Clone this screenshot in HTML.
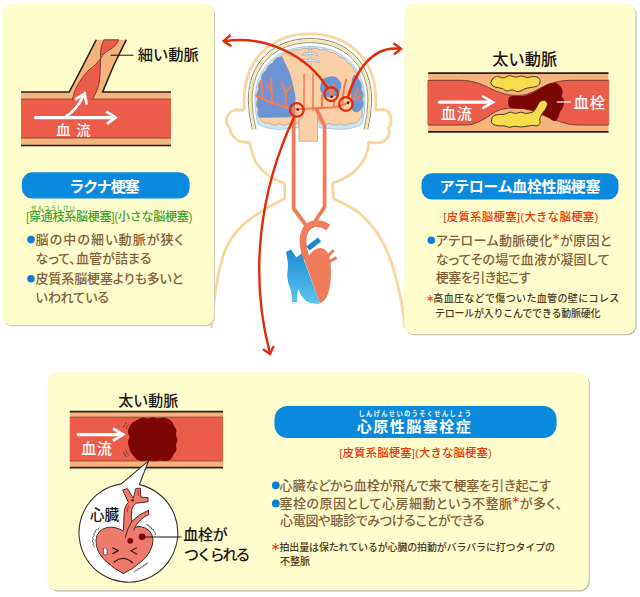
<!DOCTYPE html>
<html lang="ja">
<head>
<meta charset="utf-8">
<title>脳梗塞の種類</title>
<style>
html,body{margin:0;padding:0;background:#fff;}
body{width:640px;height:597px;overflow:hidden;position:relative;font-family:"Liberation Sans","Noto Sans CJK JP",sans-serif;}
svg{position:absolute;left:0;top:0;display:block;}
text{font-family:"Liberation Sans","Noto Sans CJK JP",sans-serif;}
.b{font-weight:700;}
.body{fill:#84603a;font-size:13px;font-weight:500;font-feature-settings:"palt";}
.fn{fill:#4e3822;font-size:10px;font-weight:500;}
.w{fill:#fff;font-weight:700;}
.k{fill:#1a1410;font-weight:500;}
.red{fill:#e8380d;font-weight:500;}
.grn{fill:#3da436;font-weight:500;}
.ast{fill:#e8380d;font-weight:700;}
</style>
</head>
<body>
<svg width="640" height="597" viewBox="0 0 640 597">
<defs>
<linearGradient id="hb" x1="0" y1="0" x2="0" y2="1"><stop offset="0" stop-color="#1c8ad2"/><stop offset="1" stop-color="#5cc6f0"/></linearGradient>
</defs>

<!-- ========== BODY / BRAIN (behind panels) ========== -->
<g id="bodyfig">
<!-- head/body outline -->
<path d="M244.2 110 V100.0 C244.2 60.3 270.5 33.8 310.0 33.8 C349.5 33.8 375.8 60.3 375.8 100.0 V110
 L384 109.5 Q389.8 111 391 118 Q392 124.5 388.3 128.5 Q390.8 134 387 138.5 Q383 143 376.3 142.9 L368.5 142.5
 Q369 151 362.5 162 Q356 171 349 175.5 Q341 180.5 332.5 183.4 L333.4 198.4 Q347 205 357 211 Q370 222 378 234 Q387 248 392.4 265.7 Q397.5 282 400.8 299 Q402.5 308 403.7 316 L405 328" fill="none" stroke="#fbd59e" stroke-width="2.8" stroke-linejoin="round"/>
<path d="M244.2 110 L235 110 Q228.5 112 226.7 118 Q225.5 124 230 128.5 Q230 134 234.5 137.5 Q238 142 244 142 L250 143
 Q251 151 255.6 162 Q261 170 268.75 176 Q276 180.5 284.7 183.4 L284.7 198.4 Q270 206 260 212.5 Q246 221 237 231 Q228 242 223.4 255 Q218 272 215.3 291 Q213.5 310 211.3 328" fill="none" stroke="#fbd59e" stroke-width="2.8" stroke-linejoin="round"/>
<!-- skull layers -->
<path d="M252.3 129.5 Q248.6 115 248.3 100.0 C248.3 63.1 273.0 38.5 310.0 38.5 C347.0 38.5 371.7 63.1 371.7 100.0 Q371.4 115 367.7 129.5" fill="none" stroke="#8f8378" stroke-width="1"/>
<path d="M254.2 129.5 Q250.5 115 250.2 100.0 C250.2 64.4 274.1 40.6 310.0 40.6 C345.9 40.6 369.8 64.4 369.8 100.0 Q369.5 115 365.8 129.5" fill="none" stroke="#f3eaa6" stroke-width="2.3"/>
<path d="M256.0 129.5 Q252.3 115 252.0 100.0 C252.0 65.6 275.2 42.6 310.0 42.6 C344.8 42.6 368.0 65.6 368.0 100.0 Q367.7 115 364.0 129.5" fill="none" stroke="#8f8378" stroke-width="0.9"/>
<!-- M253.7 100.0 C253.7 67.0 276.2 45.0 310.0 45.0 C343.8 45.0 366.3 67.0 366.3 100.0 Q366.3 115 362 124.5 Q350 130 335 128.5 L319 127 L319 120 L299 120 L299 127 L285 128.5 Q270 130 258 124.5 Q253.7 115 253.7 100.0 Z light blue -->
<path d="M255.1 100.0 C255.1 67.9 277.1 46.5 310.0 46.5 C342.9 46.5 364.9 67.9 364.9 100.0 Q364.9 115 361.5 124.5 Q350 130.5 335 129 L319 127.5 L319 120 L299 120 L299 127.5 L285 129 Q270 130.5 258.5 124.5 Q255.1 115 255.1 100.0 Z" fill="#cfe6f2" stroke="#a9cde2" stroke-width="1"/>
<!-- brain -->
<clipPath id="bc"><path d="M260.5 119.5 Q256.3 115.2 258.4 109.6 Q254.9 104.7 257.8 99.5 Q255.1 94.1 258.7 89.4 Q257.0 83.6 261.5 79.6 Q261.0 73.6 266.1 70.6 Q267.0 64.7 272.7 62.9 Q274.8 57.3 280.8 56.8 Q284.1 51.8 290.0 52.6 Q294.2 48.3 299.9 50.3 Q304.7 46.7 310.0 49.5 Q315.3 46.7 320.1 50.3 Q325.8 48.3 330.0 52.6 Q335.9 51.8 339.2 56.8 Q345.2 57.3 347.3 62.9 Q353.0 64.7 353.9 70.6 Q359.0 73.6 358.5 79.6 Q363.0 83.6 361.3 89.4 Q364.9 94.1 362.2 99.5 Q365.1 104.7 361.6 109.6 Q363.7 115.2 359.5 119.5 Q356.0 124.6 349.9 123.3 Q344.8 126.9 339.6 123.6 Q334.3 126.8 329.3 123.2 Q323.8 126.0 319.0 122.0 L318 118 L300 118 L299 122 Q294.6 126.0 289.2 123.3 Q284.5 126.8 279.4 123.6 Q274.4 126.8 269.6 123.2 Q263.8 124.5 260.5 119.5 Z"/></clipPath>
<path d="M260.5 119.5 Q256.3 115.2 258.4 109.6 Q254.9 104.7 257.8 99.5 Q255.1 94.1 258.7 89.4 Q257.0 83.6 261.5 79.6 Q261.0 73.6 266.1 70.6 Q267.0 64.7 272.7 62.9 Q274.8 57.3 280.8 56.8 Q284.1 51.8 290.0 52.6 Q294.2 48.3 299.9 50.3 Q304.7 46.7 310.0 49.5 Q315.3 46.7 320.1 50.3 Q325.8 48.3 330.0 52.6 Q335.9 51.8 339.2 56.8 Q345.2 57.3 347.3 62.9 Q353.0 64.7 353.9 70.6 Q359.0 73.6 358.5 79.6 Q363.0 83.6 361.3 89.4 Q364.9 94.1 362.2 99.5 Q365.1 104.7 361.6 109.6 Q363.7 115.2 359.5 119.5 Q356.0 124.6 349.9 123.3 Q344.8 126.9 339.6 123.6 Q334.3 126.8 329.3 123.2 Q323.8 126.0 319.0 122.0 L318 118 L300 118 L299 122 Q294.6 126.0 289.2 123.3 Q284.5 126.8 279.4 123.6 Q274.4 126.8 269.6 123.2 Q263.8 124.5 260.5 119.5 Z" fill="#fbd0a6"/>
<!-- central fissure -->
<path d="M310 47 V65.5 M303.5 54.5 Q310 52 316.5 54.5 M301.5 61.5 Q310 58.5 318.5 61.5" fill="none" stroke="#9aa6ae" stroke-width="2.6" stroke-linecap="round"/>
<path d="M310 47 V65 M303.5 54.5 Q310 52 316.5 54.5 M301.5 61.5 Q310 58.5 318.5 61.5" fill="none" stroke="#d5e4ec" stroke-width="1.4" stroke-linecap="round"/>
<!-- infarct regions -->
<g clip-path="url(#bc)">
<path d="M280.9 54.1 L282 45 H250 V112 Q256 117 262 117.8 L290 117.3 Q294.5 116 294.6 110 L295.6 97.7 Q294.5 89 289.6 72.2 Z" fill="#6c93d3"/>
<path d="M354 75 Q359 76 362 84 Q365 92 364.5 100 Q363.5 108 359 111.5 Q355.5 113.5 352.5 110.5 Q350.5 107 351.5 101 Q350.5 95 351.5 88 Q350.5 80 354 75 Z" fill="#6c93d3"/>
</g>
<path d="M330 76.5 Q336 75.5 339 80 Q343 84 340.5 89.5 Q340 95.5 334 96.5 Q328 99 323.5 95 Q319 91.5 320.5 86 Q320.5 79.5 325.5 77.8 Z" fill="#6c93d3"/>
<path d="M260.5 119.5 Q256.3 115.2 258.4 109.6 Q254.9 104.7 257.8 99.5 Q255.1 94.1 258.7 89.4 Q257.0 83.6 261.5 79.6 Q261.0 73.6 266.1 70.6 Q267.0 64.7 272.7 62.9 Q274.8 57.3 280.8 56.8 Q284.1 51.8 290.0 52.6 Q294.2 48.3 299.9 50.3 Q304.7 46.7 310.0 49.5 Q315.3 46.7 320.1 50.3 Q325.8 48.3 330.0 52.6 Q335.9 51.8 339.2 56.8 Q345.2 57.3 347.3 62.9 Q353.0 64.7 353.9 70.6 Q359.0 73.6 358.5 79.6 Q363.0 83.6 361.3 89.4 Q364.9 94.1 362.2 99.5 Q365.1 104.7 361.6 109.6 Q363.7 115.2 359.5 119.5 Q356.0 124.6 349.9 123.3 Q344.8 126.9 339.6 123.6 Q334.3 126.8 329.3 123.2 Q323.8 126.0 319.0 122.0 L318 118 L300 118 L299 122 Q294.6 126.0 289.2 123.3 Q284.5 126.8 279.4 123.6 Q274.4 126.8 269.6 123.2 Q263.8 124.5 260.5 119.5 Z" fill="none" stroke="#b39a84" stroke-width="0.7"/>
<!-- brainstem -->
<path d="M299 116 V141.2 H317.5 V116" fill="#fbd0a6" stroke="#b9977a" stroke-width="0.7"/>
<!-- arteries -->
<g fill="none" stroke="#f4906e" stroke-width="2" stroke-linecap="round">
<path d="M304.1 110 V74.5 M313 110 V74.5"/>
</g>
<g fill="none" stroke="#f47c54" stroke-width="2.1" stroke-linecap="round">
<path d="M256.1 95.7 Q266 100.5 276.2 104.4 Q287 107.8 297 109.3"/>
<path d="M262.1 99 Q263.2 89 260.8 80.9 M272.2 103 Q271.3 90 271.1 78.7 M271.5 91 L267.1 85 M285.6 107.5 L285.8 92.3 L281.6 83 M285.8 92.3 L291.6 85.6"/>
<path d="M297 109.3 L334 107.3 Q341 106 346 103.7 Q355 99.5 361.3 95.4"/>
<path d="M331.6 96.5 L329 86.5 M331.6 96.5 L334 84.5 M322 108 V95 M334 107 V100 M342.4 104.5 Q343 90 346.2 79.6 M347.7 98 Q348.5 91 351.5 86.4 M353.5 99.5 L357.5 89"/>
</g>
<g fill="none" stroke="#f17c5b" stroke-width="3.8" stroke-linejoin="round" stroke-linecap="round">
<path d="M293.6 112 V208.5 L306.5 226"/>
<path d="M316.5 109 L324.6 126 V207 L315.6 220.5"/>
</g>
<!-- heart -->
<path d="M328.3 227.5 Q321 222.5 313 224 Q303.5 227.5 303 240 Q303 249 306 258" fill="none" stroke="#f17c5b" stroke-width="6.8"/>
<path d="M308 248.5 L319.5 239.5" stroke="#1c86d0" stroke-width="5.2" fill="none"/>
<path d="M302 253.5 L320 303.5 Q324 301.5 326.5 297.5 Q330.5 289 330.8 278 Q331.5 266 329.5 257 Q327 249 321 248 Q315 248 311.5 252.5 L306.5 258 Z" fill="#f17c5b"/>
<path d="M326 258 L333.6 250.2 M328 262.3 L336.6 257.6" stroke="#f17c5b" stroke-width="3" fill="none"/>
<path d="M286 252 L291 249.5 L296.5 257.5 L301.5 253.5 L320 303.5 Q312 304.8 306 301 Q300.5 296 298.5 289 Q296.5 294 297.5 302 L292 302 Q292 295 290.5 289 Q287 281 287.2 274 Q288.5 266 287.5 260 Z" fill="url(#hb)"/>
</g>

<!-- ========== PANELS ========== -->
<g id="panels">
<rect x="3.1" y="4.5" width="211.9" height="321.8" rx="9.5" fill="#c4c2b2"/>
<rect x="2.3" y="3.5" width="211.9" height="321.8" rx="9.5" fill="#fffdcb"/>
<rect x="405.2" y="4.6" width="231.4" height="330.7" rx="9.5" fill="#bab8a8"/>
<rect x="404.2" y="3.5" width="231.4" height="330.7" rx="9.5" fill="#fffdcb"/>
<rect x="48.2" y="373.6" width="541.5" height="217.8" rx="9.5" fill="#bab8a8"/>
<rect x="47.3" y="372.5" width="541.5" height="217.8" rx="9.5" fill="#fffdcb"/>
</g>

<!-- ========== ILLUSTRATION 1 ========== -->
<g id="ill1">
<path d="M21 92 H69.2 Q83.5 65 96.25 39.75 H126.25 Q113 65 102.6 92 H171 V145.5 H21 Z" fill="#f4b47c"/>
<rect x="21" y="99.1" width="150" height="38.9" fill="#eb5d4a"/>
<path d="M21 99.1 H72.5 M92.7 99.1 H171 M21 138 H171" fill="none" stroke="#7a3a24" stroke-width="0.8"/>
<path d="M72.5 99.3 C72.8 98.2 73.4 95.2 74.1 93.0 C74.8 90.8 75.5 89.0 76.9 86.4 C78.3 83.9 80.3 80.4 82.3 77.7 C84.3 75.0 87.0 71.9 88.9 70.0 C90.8 68.1 91.8 68.1 93.8 66.2 C95.7 64.4 99.5 60.0 100.6 58.7 C100.6 59.9 100.5 63.5 100.4 66.0 C100.3 68.5 100.2 71.3 100.0 74.0 C99.8 76.7 99.7 79.5 99.3 82.0 C98.9 84.5 98.3 86.7 97.5 89.0 C96.7 91.3 95.2 94.0 94.4 95.7 C93.6 97.4 93.0 98.7 92.7 99.3 Z" fill="#eb5d4a" stroke="#6a2a18" stroke-width="0.8"/>
<rect x="73" y="98.5" width="19.3" height="2.5" fill="#eb5d4a"/>
<path d="M100.6 58.7 C100.6 57.9 100.4 55.8 100.5 54.0 C100.6 52.2 100.7 49.7 101.0 48.0 C101.3 46.3 101.8 45.4 102.3 44.0 C102.8 42.6 103.5 40.5 103.8 39.8 L118.75 39.75 C118.3 40.5 117.0 43.2 116.0 44.5 C115.0 45.8 114.1 46.5 112.5 47.8 C110.9 49.0 107.9 50.7 106.2 52.0 C104.6 53.3 103.4 54.4 102.5 55.5 C101.6 56.6 100.9 58.2 100.6 58.7 Z" fill="#eb5d4a" stroke="#6a2a18" stroke-width="0.8"/>
<path d="M21 92 H69.2 Q83.5 65 96.25 39.75 M126.25 39.75 Q113 65 102.6 92 H171 M21 145.5 H171" fill="none" stroke="#2a1c14" stroke-width="1.6"/>
<path d="M35.5 117.6 H114" fill="none" stroke="#fff" stroke-width="3.2" stroke-linecap="round"/>
<path d="M106.2 111.4 L115.5 117.6 L107 123.8" fill="none" stroke="#fff" stroke-width="2.8"/>
<path d="M66 116.5 Q76.5 110 83.7 95.5" fill="none" stroke="#fff" stroke-width="2.8"/>
<path d="M75.2 99.5 L84.6 93.6 L86.7 104.5" fill="none" stroke="#fff" stroke-width="2.7"/>
<text class="w" x="56.3" y="134.6" font-size="14.2" style="font-weight:500">血<tspan dx="5.8">流</tspan></text>
<path d="M110.5 55.2 H133.5" stroke="#111" stroke-width="1" fill="none"/>
<text class="k" x="137.8" y="60.2" font-size="15.3" textLength="61">細い動脈</text>
</g>
<!-- ========== ILLUSTRATION 2 ========== -->
<g id="ill2">
<rect x="428.2" y="73.2" width="180.3" height="58.7" fill="#f4b47c"/>
<path d="M428.2 80.3 H460 C472 80.4 478 83 485 85.9 C490 88 494 90.5 498.3 91.9 C503 93.5 507 94.8 511.6 95.2 Q517 95.7 522.2 95.2 C526 94.8 529 93.5 532.8 91.9 C537 90 540 88.3 543.4 86.6 C547 84.8 550 83.7 554 82.6 C558 81.5 561 81 564.7 80.6 Q570 80.2 578 80.3 H608.5 V125 H578 Q574 124.9 570 124.4 C568 124 566 123.5 564.7 123.1 C561 122 558 121.3 554 119.8 C550 118.3 547 116.7 543.4 115.2 C539 113.3 536 111.8 531.5 110.5 Q528 109.5 524.8 108.8 C521 108 518 107.8 514.2 107.9 C510 108 506 108.3 502.3 109.2 C499 110 496 111.3 493 113.2 C490 115 488 116.8 485 118.5 C480 121.3 476 123.5 470 124.8 Q465 125 460 125 H428.2 Z" fill="#eb5d4a" stroke="#5a3020" stroke-width="0.8"/>
<rect x="427.6" y="80.8" width="1.2" height="43.8" fill="#eb5d4a"/><rect x="607.9" y="80.8" width="1.2" height="43.8" fill="#eb5d4a"/>
<path d="M428.2 73.2 H608.5 M428.2 131.9 H608.5" stroke="#2a1c14" stroke-width="1.7" fill="none"/>
<path d="M508.2 102.0 C508.3 100.8 508.3 98.5 509.0 97.5 C509.7 96.5 511.0 96.2 512.5 96.0 C514.0 95.8 516.1 96.0 518.0 96.0 C519.9 96.0 522.0 96.1 524.0 95.8 C526.0 95.5 528.0 94.8 530.0 94.0 C532.0 93.2 534.2 92.0 536.0 91.0 C537.8 90.0 539.4 88.9 541.0 88.0 C542.6 87.1 544.0 86.2 545.5 85.5 C547.0 84.8 548.4 84.0 550.0 83.6 C551.6 83.2 553.8 82.8 555.4 83.1 C557.0 83.4 558.4 84.5 559.5 85.5 C560.6 86.5 561.5 87.8 562.0 89.0 C562.5 90.2 562.8 91.3 562.7 92.5 C562.6 93.7 561.5 95.3 561.6 96.4 C561.8 97.5 563.2 98.0 563.6 99.0 C564.0 100.0 564.3 101.3 564.2 102.5 C564.1 103.7 563.5 104.9 563.2 106.0 C562.9 107.1 562.7 108.0 562.2 109.0 C561.7 110.0 560.5 110.9 560.0 112.0 C559.5 113.1 559.4 114.4 559.0 115.5 C558.6 116.6 558.0 117.8 557.4 118.7 C556.8 119.6 556.1 120.7 555.2 121.0 C554.3 121.3 553.1 120.8 552.0 120.3 C550.9 119.8 550.2 118.6 548.8 117.8 C547.4 117.0 545.5 116.2 543.4 115.2 C541.3 114.2 538.6 112.5 536.0 111.5 C533.4 110.5 530.7 110.0 528.0 109.5 C525.3 109.0 522.3 108.9 520.0 108.7 C517.7 108.5 515.7 108.8 514.0 108.6 C512.3 108.4 510.9 108.1 510.0 107.5 C509.1 106.9 508.8 105.9 508.5 105.0 C508.2 104.1 508.1 103.2 508.2 102.0 Z" fill="#7a0703"/>
<path d="M491.0 82.0 C491.4 81.0 492.4 78.9 493.5 78.0 C494.6 77.1 496.0 76.4 497.6 76.4 C499.2 76.4 500.9 78.0 502.9 77.9 C504.9 77.8 507.5 75.7 509.6 75.6 C511.7 75.5 513.5 77.0 515.5 77.1 C517.5 77.2 519.5 75.9 521.5 76.0 C523.5 76.1 525.4 77.4 527.5 77.5 C529.6 77.6 532.3 76.3 534.1 76.4 C535.9 76.5 537.5 77.2 538.5 78.0 C539.5 78.8 540.1 80.4 540.1 81.5 C540.1 82.6 539.5 83.7 538.8 84.5 C538.1 85.3 537.5 86.0 536.0 86.5 C534.5 87.0 531.4 87.3 529.5 87.7 C527.6 88.1 526.7 88.1 524.8 88.8 C522.9 89.5 520.3 91.5 518.2 91.7 C516.1 91.9 514.1 90.0 512.2 89.9 C510.3 89.8 508.5 91.3 506.9 91.1 C505.2 90.9 503.9 89.2 502.3 88.6 C500.7 88.0 498.6 87.9 497.0 87.5 C495.4 87.1 493.9 86.6 493.0 86.0 C492.1 85.4 491.6 84.7 491.3 84.0 C491.0 83.3 490.6 83.0 491.0 82.0 Z" fill="#f9dc4c" stroke="#4a3418" stroke-width="1"/>
<path d="M491.4 121.0 C491.4 120.1 491.7 118.5 492.3 117.5 C492.9 116.5 493.8 115.8 495.0 115.3 C496.2 114.8 498.0 114.7 499.6 114.5 C501.2 114.3 502.7 114.7 504.5 114.3 C506.3 113.9 508.4 112.3 510.2 112.2 C512.0 112.1 513.7 113.4 515.5 113.4 C517.3 113.4 519.2 112.2 520.9 112.2 C522.6 112.2 524.0 113.3 525.5 113.4 C527.0 113.5 528.9 113.1 530.2 112.8 C531.5 112.5 532.5 112.3 533.5 111.5 C534.5 110.7 535.2 109.2 536.0 108.0 C536.8 106.8 537.4 105.6 538.1 104.5 C538.8 103.4 539.2 102.3 540.1 101.6 C541.0 100.9 542.3 100.3 543.4 100.3 C544.5 100.3 545.8 101.0 546.5 101.8 C547.2 102.5 547.6 103.6 547.4 104.8 C547.2 106.0 546.2 107.8 545.4 109.2 C544.6 110.6 543.3 111.8 542.5 113.0 C541.7 114.2 541.1 115.4 540.6 116.5 C540.1 117.6 539.8 118.7 539.7 119.8 C539.6 120.9 540.5 122.0 540.1 123.0 C539.7 124.0 538.9 125.2 537.5 125.6 C536.1 126.0 533.2 125.4 531.5 125.5 C529.8 125.6 528.8 126.0 527.0 126.2 C525.2 126.5 522.9 127.0 520.9 127.0 C518.9 127.0 516.9 126.2 515.0 126.2 C513.1 126.2 511.4 127.4 509.6 127.3 C507.8 127.2 505.9 126.0 504.0 125.8 C502.1 125.5 500.0 126.0 498.3 125.8 C496.6 125.6 495.1 125.2 494.0 124.7 C492.9 124.2 492.4 123.6 492.0 123.0 C491.6 122.4 491.3 121.9 491.4 121.0 Z" fill="#f9dc4c" stroke="#4a3418" stroke-width="1"/>
<path d="M439.5 102.2 H491.5" stroke="#fff" stroke-width="3.2" stroke-linecap="round" fill="none"/>
<path d="M482.3 96 L493 102.2 L482.3 108.4" fill="none" stroke="#fff" stroke-width="2.6"/>
<text class="w" x="441" y="119" font-size="15" textLength="30.8" style="font-weight:500">血流</text>
<path d="M556.8 102 H570.8" stroke="#fff" stroke-width="1.2" fill="none"/>
<text class="w" x="573.5" y="108" font-size="15.3" textLength="31.5" style="font-weight:500">血栓</text>
<text class="k" x="492.2" y="65" font-size="16.2" textLength="65">太い動脈</text>
</g>
<!-- ========== ILLUSTRATION 3 ========== -->
<g id="ill3">
<rect x="69.8" y="411.7" width="153.2" height="56" fill="#f4b47c"/>
<rect x="69.8" y="417.1" width="153.2" height="43.9" fill="#eb5d4a"/>
<path d="M69.8 417.1 H223 M69.8 461 H223" stroke="#7a3a24" stroke-width="0.7" fill="none"/>
<path d="M69.8 411.7 H223 M69.8 467.7 H223" stroke="#2a1c14" stroke-width="1.7" fill="none"/>
<!-- bubble -->
<path d="M148.6 460.8 L139.3 484.6 A49.4 49.4 0 1 1 121.3 483.9 Z" fill="#fff" stroke="#3a3230" stroke-width="1.1" stroke-linejoin="round"/>
<!-- thrombus -->
<path d="M138.0 419.5 C139.8 418.6 141.3 417.8 143.0 417.6 C144.7 417.4 146.3 418.6 148.0 418.5 C149.7 418.4 151.3 417.3 153.0 417.3 C154.7 417.3 156.3 418.5 158.0 418.5 C159.7 418.5 161.3 417.4 163.0 417.5 C164.7 417.6 166.5 418.3 168.0 419.0 C169.5 419.7 171.0 420.3 172.0 421.5 C173.0 422.7 173.2 424.6 174.0 426.0 C174.8 427.4 176.2 428.5 176.5 430.0 C176.8 431.5 175.8 433.3 176.0 435.0 C176.2 436.7 177.5 438.3 177.5 440.0 C177.5 441.7 176.2 443.3 176.0 445.0 C175.8 446.7 176.9 448.4 176.5 450.0 C176.1 451.6 174.4 453.0 173.5 454.5 C172.6 456.0 172.2 457.9 171.0 459.0 C169.8 460.1 167.8 460.8 166.0 461.0 C164.2 461.2 162.0 460.4 160.0 460.5 C158.0 460.6 156.0 461.3 154.0 461.3 C152.0 461.3 150.0 460.5 148.0 460.5 C146.0 460.5 143.8 461.4 142.0 461.2 C140.2 461.0 138.4 460.4 137.0 459.5 C135.6 458.6 134.6 457.2 133.5 456.0 C132.4 454.8 131.2 453.5 130.5 452.0 C129.8 450.5 129.4 448.7 129.0 447.0 C128.6 445.3 127.9 443.7 128.0 442.0 C128.1 440.3 129.5 438.7 129.5 437.0 C129.5 435.3 127.8 433.7 127.8 432.0 C127.8 430.3 128.8 428.5 129.5 427.0 C130.2 425.5 130.6 424.2 132.0 423.0 C133.4 421.8 136.2 420.4 138.0 419.5 Z" fill="#7a0703"/>
<path d="M123.5 427.5 Q124 424.5 127 422.5 M126 429 Q126.5 426.5 129 424.5 M123.5 452 Q124 455 127 457 M126 450.5 Q126.5 453.5 129 455.5" fill="none" stroke="#5a2a20" stroke-width="0.8"/>
<path d="M78.3 434.6 H121.5" stroke="#fff" stroke-width="3.2" stroke-linecap="round" fill="none"/>
<path d="M113 428.5 L123 434.6 L113 440.7" fill="none" stroke="#fff" stroke-width="2.8"/>
<text class="w" x="81.2" y="454.1" font-size="15" textLength="30.5" style="font-weight:500">血流</text>
<text class="k" x="118.3" y="405.5" font-size="15" textLength="60">太い動脈</text>
<!-- heart cartoon -->
<g id="hc" stroke="#3a1810" stroke-width="0.9" stroke-linejoin="round" stroke-linecap="round">
<path d="M123.3 573.5 Q114 569 105 560.5 Q95.5 551 96 540 Q96.8 530 107 527.5 Q116 526 124 531.5 Q131 526 140 526.5 Q152 528.5 153 539.5 Q153 551 142 561 Q132 570 123.3 573.5 Z" fill="#ee7a6c"/>
<path d="M123.3 531 L124.3 510.2 Q125.5 505 128.3 502.2 L122.7 490.1 L127.3 488.5 L133.3 498.1 L135.9 488.5 L140.4 488.1 L140.8 497.1 L148 497.7 L148 501.8 L136.3 503.2 Q132.5 505.5 131.9 509.2 L131.3 517.2 L131.8 521.5 Q139 514 148.4 510.2 L148.8 514.6 Q141 517.5 134.7 527.3 L133.5 531 Z" fill="#ee7a6c"/>
<path d="M123 530 L134 530 L133.6 532.5 L123.5 532.5 Z" fill="#ee7a6c" stroke="none"/>
<path d="M131.8 521.5 Q127 529 125.3 537.3" fill="none"/>
<path d="M112.8 548 L118.3 550.6 L112.8 553.6 M136.6 547.8 L130.8 550.8 L136.8 554 M114.2 562 Q123.3 554.5 132.5 562.8" fill="none" stroke-width="1.2"/>
<path d="M103.5 548.3 Q105.5 546.5 107 549 L107.2 554 Q105.3 556.3 103.6 554.2 Z" fill="#fff" stroke-width="0.7"/>
<circle cx="130.3" cy="540.8" r="2.9" fill="#7a0703" stroke="none"/>
<circle cx="142" cy="536.8" r="3.3" fill="#7a0703" stroke="none"/>
<circle cx="132.6" cy="500.3" r="1.3" fill="#7a0703" stroke="none"/>
<path d="M127.2 512 L128.3 506 M138.3 495.5 L138 490.5" fill="none" stroke="#e01010" stroke-width="0.9"/>
<path d="M96.5 529.5 q-2.5 1.2 -1.2 3 q-2.8 1.2 -1.3 3.2 q-2.6 1.5 -0.8 3.5 q-2 2 0.2 3.8 q-1.5 2 0.8 3.5 M99 528 q-2 1 -1 2.5 M146.5 524.5 q2.8 0 2.5 2.2 q2.8 -0.3 2.5 2.3 q2.8 0 2.3 2.5 q2.5 0.5 1.5 3 M134.5 572 q0.5 -2.5 2.8 -1.6 q0.3 -2.6 2.8 -1.7 q0.3 -2.6 2.8 -1.8 q0.3 -2.6 2.8 -1.9 q0 -2.3 2 -2" fill="none" stroke="#4a3a30" stroke-width="0.8"/>
</g>
<text class="k" x="90" y="519.5" font-size="14.6" textLength="29">心臓</text>
<path d="M142 537 H181.5" stroke="#111" stroke-width="1"/>
<text class="k" x="183.3" y="540" font-size="15" textLength="44.5">血栓が</text>
<text class="k" x="184" y="560.3" font-size="15" textLength="66.5">つくられる</text>
</g>
<!-- ========== RED ARROWS ========== -->
<g id="arrows" fill="none" stroke="#e02c0a" stroke-width="2.4">
<circle cx="296.8" cy="109.9" r="6.8" stroke-width="2.3"/>
<circle cx="331.1" cy="94.2" r="6.8" stroke-width="2.3"/>
<circle cx="345.9" cy="104" r="6.8" stroke-width="2.3"/>
<circle cx="297.8" cy="109.5" r="1.3" fill="#5a0a0a" stroke="none"/>
<circle cx="331.6" cy="96.8" r="1.3" fill="#5a0a0a" stroke="none"/>
<circle cx="348" cy="102.8" r="1.3" fill="#5a0a0a" stroke="none"/>
<path d="M294.5 116.2 C259.4 190 249.2 274.9 269.8 352.5"/>
<path d="M263 349.2 L270 353.9 L273.750 346"/>
<path d="M327.5 88 C306.2 53.7 264.3 35.4 224.5 41.1"/>
<path d="M230.5 35 L223.6 41.1 L231.4 46.250"/>
<path d="M348 97.3 C355.2 72.6 372 44.9 400.3 48.9"/>
<path d="M393.6 43.3 L401 48.9 L394 54.5"/>
</g>

<!-- ========== TEXT ========== -->
<g id="txt1">
<rect x="21.8" y="172.3" width="167.8" height="26.2" rx="10.5" fill="#0a8adc"/>
<text class="w" x="69.2" y="191.6" font-size="15.2" textLength="70.5">ラクナ梗塞</text>
<text class="grn" x="31.3" y="210.3" font-size="5.2" textLength="43.5">せんつうしけい</text>
<text class="grn" x="26" y="221.2" font-size="12" textLength="166.5">[穿通枝系脳梗塞](小さな脳梗塞)</text>
<circle cx="31" cy="239.6" r="3.8" fill="#0b7fd8"/>
<text class="body" x="35.6" y="243.8" textLength="148">脳の中の細い動脈が狭く</text>
<text class="body" x="35.6" y="263.4" textLength="116">なって、血管が詰まる</text>
<circle cx="31" cy="278.8" r="3.8" fill="#0b7fd8"/>
<text class="body" x="35.6" y="283.0" textLength="147.5">皮質系脳梗塞よりも多いと</text>
<text class="body" x="35.6" y="302.4" textLength="73.5">いわれている</text>
</g>

<g id="txt2">
<rect x="421.5" y="173.2" width="197" height="26.3" rx="10.5" fill="#0a8adc"/>
<text class="w" x="439.5" y="192" font-size="15" textLength="161">アテローム血栓性脳梗塞</text>
<text class="red" x="443.3" y="221" font-size="11.4" textLength="155">[皮質系脳梗塞](大きな脳梗塞)</text>
<circle cx="431.3" cy="240.3" r="3.8" fill="#0b7fd8"/>
<text class="body" x="435.8" y="244.8" font-size="12.5" textLength="175.5">アテローム動脈硬化<tspan class="ast" font-size="8.5" dy="-4.5">＊</tspan><tspan dy="4.5">が原因と</tspan></text>
<text class="body" x="435.8" y="264" font-size="12.5" textLength="173.7">なってその場で血液が凝固して</text>
<text class="body" x="435.8" y="282.3" font-size="12.5" textLength="94.7">梗塞を引き起こす</text>
<text class="ast" x="425.8" y="302.3" font-size="9">＊</text><text class="fn" x="433.3" y="302.2" textLength="186">高血圧などで傷ついた血管の壁にコレス</text>
<text class="fn" x="435" y="316.6" textLength="165.5">テロールが入りこんでできる動脈硬化</text>
</g>

<g id="txt3">
<rect x="274.5" y="406" width="282" height="32" rx="13" fill="#0a8adc"/>
<text class="w" x="358.5" y="416.3" font-size="6.3" textLength="112.5">しんげんせいのうそくせんしょう</text>
<text class="w" x="356.8" y="432" font-size="15" textLength="114">心原性脳塞栓症</text>
<text class="red" x="339.3" y="457.4" font-size="11.4" textLength="152.5">[皮質系脳梗塞](大きな脳梗塞)</text>
<circle cx="275.8" cy="485.3" r="3.9" fill="#0b7fd8"/>
<text class="body" x="279.5" y="489.6" font-size="12.5" textLength="271.5">心臓などから血栓が飛んで来て梗塞を引き起こす</text>
<circle cx="275.8" cy="503.4" r="3.9" fill="#0b7fd8"/>
<text class="body" x="279.5" y="507.8" font-size="12.5" textLength="283">塞栓の原因として心房細動という不整脈<tspan class="ast" font-size="8.5" dy="-4.5">＊</tspan><tspan dy="4.5">が多く、</tspan></text>
<text class="body" x="280" y="525.1" font-size="12.5" textLength="204.5">心電図や聴診でみつけることができる</text>
<text class="ast" x="270.6" y="551.3" font-size="10">＊</text><text class="fn" x="279.5" y="551.2" textLength="275.5">拍出量は保たれているが心臓の拍動がバラバラに打つタイプの</text>
<text class="fn" x="280" y="565" textLength="30">不整脈</text>
</g>
</svg>
</body>
</html>
